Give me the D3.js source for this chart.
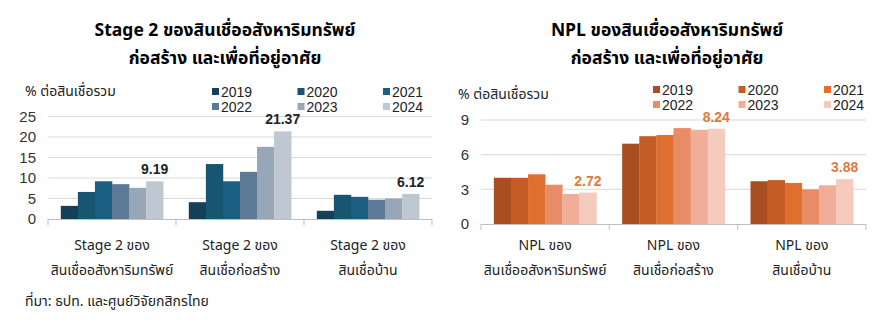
<!DOCTYPE html>
<html>
<head>
<meta charset="utf-8">
<script src="https://cdn.jsdelivr.net/npm/d3@7"></script>
<style>
  html, body { margin: 0; padding: 0; background: #fff; }
  svg { display: block; }
  .tick-lbl { font-family: "Liberation Sans", Arial, sans-serif; font-size: 15px; fill: #333; }
  .leg { font-family: "Liberation Sans", Arial, sans-serif; font-size: 14px; fill: #222; }
  .thai { font-family: "Noto Sans Thai", "Loma", "Garuda", "Noto Sans", sans-serif; }
</style>
</head>
<body>
<svg id="chart" width="887" height="329"></svg>
<script>
// Years (series) shown in both panels
const years = ["2019", "2020", "2021", "2022", "2023", "2024"];

// Left panel: Stage 2 loans, % of total loans
const stage2Categories = [
  ["Stage 2 ของ", "สินเชื่ออสังหาริมทรัพย์"],
  ["Stage 2 ของ", "สินเชื่อก่อสร้าง"],
  ["Stage 2 ของ", "สินเชื่อบ้าน"]
];
const stage2RealEstate   = [3.2, 6.6, 9.2, 8.5, 7.6, 9.19];
const stage2Construction = [4.1, 13.4, 9.2, 11.5, 17.6, 21.37];
const stage2Housing      = [2.0, 5.9, 5.4, 4.7, 5.0, 6.12];
const stage2Ticks = [0, 5, 10, 15, 20, 25];

// Right panel: NPL, % of total loans
const nplCategories = [
  ["NPL ของ", "สินเชื่ออสังหาริมทรัพย์"],
  ["NPL ของ", "สินเชื่อก่อสร้าง"],
  ["NPL ของ", "สินเชื่อบ้าน"]
];
const nplRealEstate   = [4.0, 4.0, 4.3, 3.4, 2.6, 2.72];
const nplConstruction = [6.95, 7.6, 7.7, 8.3, 8.15, 8.24];
const nplHousing      = [3.7, 3.8, 3.55, 3.0, 3.35, 3.88];
const nplTicks = [0, 3, 6, 9];

const blueColors   = ["#163f5a", "#175570", "#1b5f82", "#5c7a96", "#97a7b7", "#bfc7d0"];
const orangeColors = ["#a84e20", "#c55c26", "#df6f2e", "#e98c66", "#f0ae98", "#f4cbbd"];

const svg = d3.select("#chart");

function drawPanel(cfg) {
  const g = svg.append("g");
  const x0 = d3.scaleBand().domain(d3.range(cfg.series.length)).range([cfg.left, cfg.right]);
  const bw = x0.bandwidth();
  const x1 = d3.scaleBand().domain(years).range([bw * 0.1, bw * 0.9]);
  const y = d3.scaleLinear().domain([0, cfg.max]).range([cfg.bottom, cfg.top]);

  // gridlines
  g.selectAll("line.grid").data(cfg.ticks.filter(t => t > 0)).enter().append("line")
    .attr("x1", cfg.left).attr("x2", cfg.right)
    .attr("y1", d => y(d)).attr("y2", d => y(d))
    .attr("stroke", "#d9d9d9").attr("stroke-width", 1);

  // y tick labels
  const yAxis = d3.axisLeft(y).tickValues(cfg.ticks).tickSize(0).tickPadding(0);
  const ya = g.append("g").attr("transform", `translate(${cfg.left - 12},0)`).call(yAxis);
  ya.select(".domain").remove();
  ya.selectAll("text").attr("class", "tick-lbl").attr("font-family", null).attr("font-size", null).attr("fill", null);

  // bars
  cfg.series.forEach((vals, ci) => {
    const gg = g.append("g").attr("transform", `translate(${x0(ci)},0)`);
    gg.selectAll("rect").data(vals).enter().append("rect")
      .attr("x", (d, i) => x1(years[i]))
      .attr("width", x1.bandwidth() + 0.3)
      .attr("y", d => y(d))
      .attr("height", d => cfg.bottom - y(d))
      .attr("fill", (d, i) => cfg.colors[i]);
    // value label on latest year
    const last = vals[vals.length - 1];
    gg.append("text")
      .attr("x", x1(years[years.length - 1]) + x1.bandwidth() / 2)
      .attr("y", y(last) - 7)
      .attr("text-anchor", "middle")
      .attr("font-family", "Liberation Sans, Arial, sans-serif")
      .attr("font-weight", "bold").attr("font-size", 14)
      .attr("fill", cfg.valueColor)
      .text(last.toFixed(2));
  });

  // x axis line and category separators
  g.append("line").attr("x1", cfg.left).attr("x2", cfg.right)
    .attr("y1", cfg.bottom + 0.5).attr("y2", cfg.bottom + 0.5)
    .attr("stroke", "#bfbfbf");
  const seps = d3.range(cfg.series.length + 1).map(i => cfg.left + i * bw);
  g.selectAll("line.sep").data(seps).enter().append("line")
    .attr("x1", d => d).attr("x2", d => d)
    .attr("y1", cfg.bottom).attr("y2", cfg.bottom + 6)
    .attr("stroke", "#bfbfbf");

  // category labels
  cfg.categories.forEach((lines, ci) => {
    const t = g.append("text").attr("class", "thai")
      .attr("text-anchor", "middle").attr("font-size", 14).attr("fill", "#222");
    lines.forEach((ln, li) => {
      t.append("tspan").attr("x", x0(ci) + bw / 2).attr("y", cfg.catY + li * 25).text(ln);
    });
  });

  // y title
  g.append("text").attr("class", "thai")
    .attr("x", cfg.ytitleX).attr("y", cfg.ytitleY)
    .attr("font-size", 14).attr("fill", "#222")
    .text("% ต่อสินเชื่อรวม");

  // legend
  years.forEach((yr, i) => {
    const col = i % 3, row = Math.floor(i / 3);
    const lx = cfg.legX + col * 85.5, ly = cfg.legY + row * 15;
    g.append("rect").attr("x", lx).attr("y", ly - 4).attr("width", 7).attr("height", 7)
      .attr("fill", cfg.colors[i]);
    g.append("text").attr("class", "leg").attr("x", lx + 9).attr("y", ly + 5).text(yr);
  });

  // title
  cfg.title.forEach((ln, li) => {
    svg.append("text").attr("class", "thai")
      .attr("x", cfg.titleX).attr("y", 36 + li * 28)
      .attr("text-anchor", "middle")
      .attr("font-size", 17.5).attr("font-weight", "bold").attr("fill", "#000")
      .text(ln);
  });
}

drawPanel({
  series: [stage2RealEstate, stage2Construction, stage2Housing],
  categories: stage2Categories,
  ticks: stage2Ticks, max: 25,
  left: 48, right: 432, top: 116.5, bottom: 219,
  colors: blueColors, valueColor: "#222",
  catY: 250, ytitleX: 25, ytitleY: 96,
  legX: 212, legY: 92,
  titleX: 225,
  title: ["Stage 2 ของสินเชื่ออสังหาริมทรัพย์", "ก่อสร้าง และเพื่อที่อยู่อาศัย"]
});

drawPanel({
  series: [nplRealEstate, nplConstruction, nplHousing],
  categories: nplCategories,
  ticks: nplTicks, max: 9,
  left: 481, right: 866, top: 120, bottom: 224,
  colors: orangeColors, valueColor: "#e07a3c",
  catY: 250, ytitleX: 458, ytitleY: 99,
  legX: 653, legY: 90,
  titleX: 667,
  title: ["NPL ของสินเชื่ออสังหาริมทรัพย์", "ก่อสร้าง และเพื่อที่อยู่อาศัย"]
});

// source note
svg.append("text").attr("class", "thai")
  .attr("x", 25).attr("y", 306)
  .attr("font-size", 14).attr("fill", "#222")
  .text("ที่มา: ธปท. และศูนย์วิจัยกสิกรไทย");
</script>
</body>
</html>
